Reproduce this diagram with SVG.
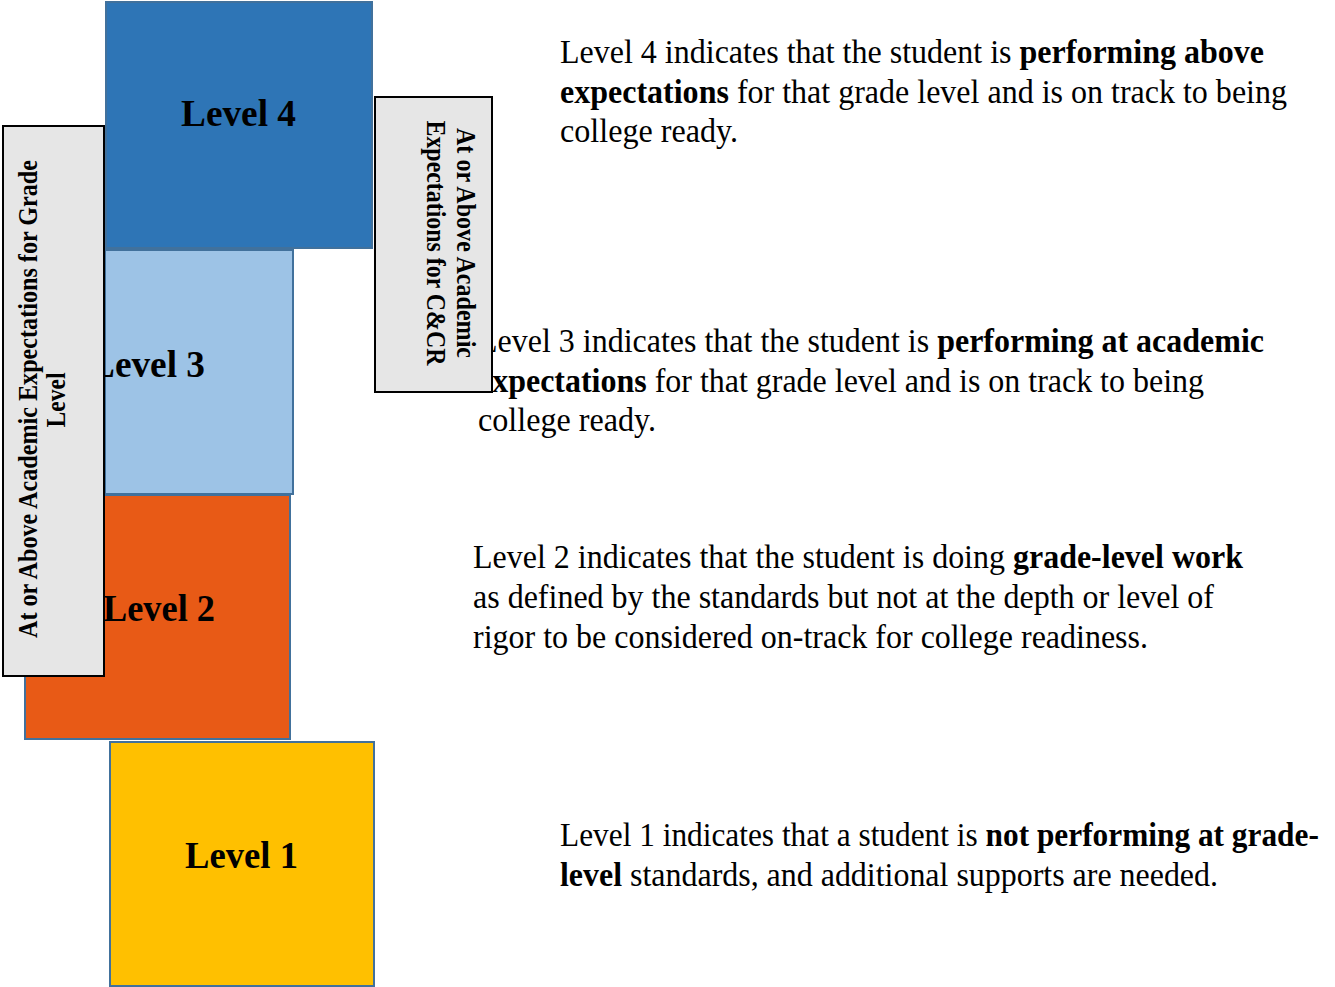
<svg xmlns="http://www.w3.org/2000/svg" width="1335" height="987" viewBox="0 0 1335 987">
  <style>
    .lvl { stroke: #41719C; stroke-width: 2; }
    .band { fill: #E6E6E6; stroke: #000; stroke-width: 2; }
    .label { font-family: "Liberation Serif", "Times New Roman", serif; font-weight: bold; font-size: 37px; fill: #000; }
    .side { font-family: "Liberation Serif", "Times New Roman", serif; font-weight: bold; font-size: 28px; fill: #000; }
    .desc { font-family: "Liberation Serif", "Times New Roman", serif; font-size: 33px; fill: #000; }
    .b { font-weight: bold; }
  </style>

  <!-- level blocks -->
  <g id="level4">
    <rect class="lvl" x="106" y="2" width="266" height="246" fill="#2E75B6" stroke="#5B8CC4"/>
    <text class="label" x="181" y="126" textLength="115" lengthAdjust="spacingAndGlyphs">Level 4</text>
  </g>
  <g id="level3">
    <rect class="lvl" x="105" y="250" width="188" height="244" fill="#9DC3E6"/>
    <text class="label" x="90" y="377" textLength="115" lengthAdjust="spacingAndGlyphs">Level 3</text>
  </g>
  <g id="level2">
    <rect class="lvl" x="25" y="495" width="265" height="244" fill="#E85A16"/>
    <text class="label" x="103" y="621" textLength="112" lengthAdjust="spacingAndGlyphs">Level 2</text>
  </g>
  <g id="level1">
    <rect class="lvl" x="110" y="742" width="264" height="244" fill="#FFC000"/>
    <text class="label" x="185" y="868" textLength="113" lengthAdjust="spacingAndGlyphs">Level 1</text>
  </g>

  <!-- bracket band: grade level -->
  <g id="band-grade">
    <rect class="band" x="3" y="126" width="101" height="550"/>
    <g transform="translate(37,399) rotate(-90)">
      <text class="side" x="0" y="0" text-anchor="middle" textLength="478" lengthAdjust="spacingAndGlyphs">At or Above Academic Expectations for Grade</text>
    </g>
    <g transform="translate(65,400) rotate(-90)">
      <text class="side" x="0" y="0" text-anchor="middle" textLength="55" lengthAdjust="spacingAndGlyphs">Level</text>
    </g>
  </g>

  <!-- descriptions -->
  <g id="desc4">
    <text class="desc" x="560" y="63" textLength="704" lengthAdjust="spacingAndGlyphs">Level 4 indicates that the student is <tspan class="b">performing above</tspan></text>
    <text class="desc" x="560" y="103" textLength="727" lengthAdjust="spacingAndGlyphs"><tspan class="b">expectations</tspan> for that grade level and is on track to being</text>
    <text class="desc" x="560" y="142" textLength="178" lengthAdjust="spacingAndGlyphs">college ready.</text>
  </g>
  <g id="desc3">
    <text class="desc" x="478" y="352" textLength="786" lengthAdjust="spacingAndGlyphs">Level 3 indicates that the student is <tspan class="b">performing at academic</tspan></text>
    <text class="desc" x="478" y="392" textLength="726" lengthAdjust="spacingAndGlyphs"><tspan class="b">expectations</tspan> for that grade level and is on track to being</text>
    <text class="desc" x="478" y="431" textLength="178" lengthAdjust="spacingAndGlyphs">college ready.</text>
  </g>
  <g id="desc2">
    <text class="desc" x="473" y="568" textLength="770" lengthAdjust="spacingAndGlyphs">Level 2 indicates that the student is doing <tspan class="b">grade-level work</tspan></text>
    <text class="desc" x="473" y="608" textLength="741" lengthAdjust="spacingAndGlyphs">as defined by the standards but not at the depth or level of</text>
    <text class="desc" x="473" y="648" textLength="675" lengthAdjust="spacingAndGlyphs">rigor to be considered on-track for college readiness.</text>
  </g>
  <g id="desc1">
    <text class="desc" transform="translate(560,846) scale(0.95,1)">Level 1 indicates that a student is <tspan class="b">not performing at grade-</tspan></text>
    <text class="desc" x="560" y="886" textLength="658" lengthAdjust="spacingAndGlyphs"><tspan class="b">level</tspan> standards, and additional supports are needed.</text>
  </g>

  <!-- bracket band: college and career readiness -->
  <g id="band-ccr">
    <rect class="band" x="375" y="97" width="117" height="295"/>
    <g transform="translate(457,243) rotate(90)">
      <text class="side" x="0" y="0" text-anchor="middle" textLength="230" lengthAdjust="spacingAndGlyphs">At or Above Academic</text>
    </g>
    <g transform="translate(427,243) rotate(90)">
      <text class="side" x="0" y="0" text-anchor="middle" textLength="245" lengthAdjust="spacingAndGlyphs">Expectations for C&amp;CR</text>
    </g>
  </g>

  <!-- no connectors in this chart -->
  <g id="connectors"/>
</svg>
